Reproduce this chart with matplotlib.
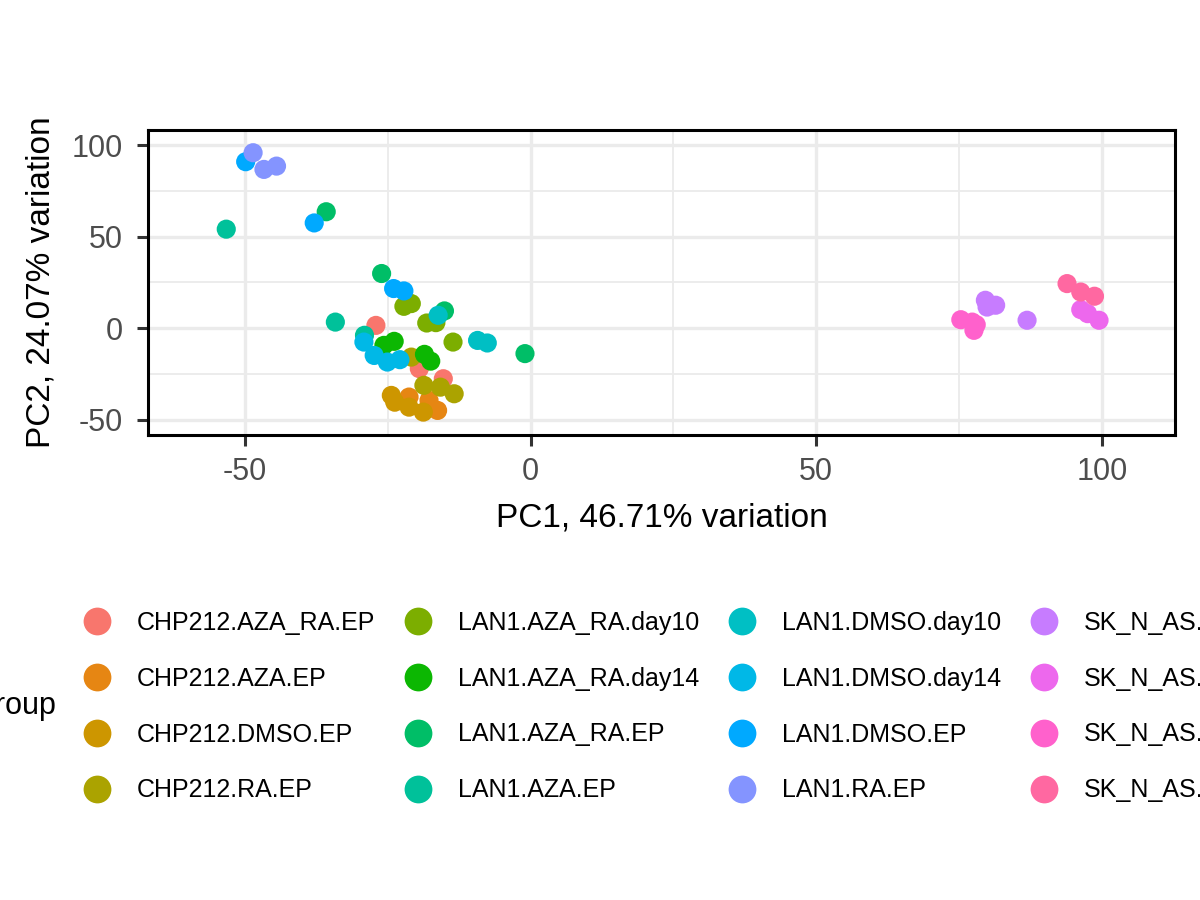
import matplotlib.pyplot as plt
from matplotlib.lines import Line2D
from matplotlib.ticker import MultipleLocator

plt.rcParams["font.family"] = ["Liberation Sans", "DejaVu Sans"]
plt.rcParams["axes.unicode_minus"] = False

# groups and ggplot-style hue colours
groups = [
    "CHP212.AZA_RA.EP", "CHP212.AZA.EP", "CHP212.DMSO.EP", "CHP212.RA.EP",
    "LAN1.AZA_RA.day10", "LAN1.AZA_RA.day14", "LAN1.AZA_RA.EP", "LAN1.AZA.EP",
    "LAN1.DMSO.day10", "LAN1.DMSO.day14", "LAN1.DMSO.EP", "LAN1.RA.EP",
    "SK_N_AS.AZA_RA.EP", "SK_N_AS.AZA.EP", "SK_N_AS.DMSO.EP", "SK_N_AS.RA.EP",
]
colors = [
    "#F8766D", "#E68613", "#CD9600", "#ABA300",
    "#7CAE00", "#0CB702", "#00BE67", "#00C19A",
    "#00BFC4", "#00B8E7", "#00A9FF", "#8494FF",
    "#C77CFF", "#ED68ED", "#FF61CC", "#FF68A1",
]

# PC1 / PC2 scores per group
pc1 = {
    "CHP212.AZA_RA.EP": [-27.1, -19.5, -15.3],
    "CHP212.AZA.EP": [-21.3, -17.8, -16.3],
    "CHP212.DMSO.EP": [-24.4, -23.8, -21.3, -18.8],
    "CHP212.RA.EP": [-20.9, -18.7, -15.8, -13.4],
    "LAN1.AZA_RA.day10": [-22.2, -20.9, -18.2, -16.6, -13.6],
    "LAN1.AZA_RA.day14": [-25.7, -23.9, -18.6, -17.5],
    "LAN1.AZA_RA.EP": [-35.8, -26.1, -15.1, -1.0],
    "LAN1.AZA.EP": [-53.3, -34.2, -29.1],
    "LAN1.DMSO.day10": [-16.2, -9.3, -7.6],
    "LAN1.DMSO.day14": [-29.2, -27.4, -25.1, -22.9],
    "LAN1.DMSO.EP": [-49.9, -37.9, -24.0, -22.2],
    "LAN1.RA.EP": [-48.6, -46.7, -44.5],
    "SK_N_AS.AZA_RA.EP": [79.6, 81.4, 79.9, 86.9],
    "SK_N_AS.AZA.EP": [96.3, 97.5, 99.5],
    "SK_N_AS.DMSO.EP": [75.3, 77.3, 78.0, 77.6],
    "SK_N_AS.RA.EP": [93.9, 96.3, 98.7],
}
pc2 = {
    "CHP212.AZA_RA.EP": [1.6, -22.0, -27.5],
    "CHP212.AZA.EP": [-37.5, -39.3, -44.8],
    "CHP212.DMSO.EP": [-36.6, -40.3, -43.0, -45.7],
    "CHP212.RA.EP": [-15.7, -31.1, -32.1, -35.7],
    "LAN1.AZA_RA.day10": [12.0, 13.5, 2.9, 3.1, -7.5],
    "LAN1.AZA_RA.day14": [-9.3, -7.1, -14.2, -17.9],
    "LAN1.AZA_RA.EP": [63.6, 29.9, 9.5, -13.8],
    "LAN1.AZA.EP": [54.1, 3.4, -3.8],
    "LAN1.DMSO.day10": [7.1, -6.6, -8.0],
    "LAN1.DMSO.day14": [-7.5, -14.8, -18.4, -17.1],
    "LAN1.DMSO.EP": [90.9, 57.5, 21.7, 20.4],
    "LAN1.RA.EP": [95.8, 86.7, 88.5],
    "SK_N_AS.AZA_RA.EP": [15.3, 12.6, 11.6, 4.4],
    "SK_N_AS.AZA.EP": [10.2, 8.0, 4.4],
    "SK_N_AS.DMSO.EP": [4.7, 3.4, 2.0, -1.1],
    "SK_N_AS.RA.EP": [24.4, 19.8, 17.5],
}

fig = plt.figure(figsize=(12, 9), dpi=100)
ax = fig.add_axes([148 / 1200, 465 / 900, 1027 / 1200, 305 / 900])

for g, c in zip(groups, colors):
    ax.scatter(pc1[g], pc2[g], s=190, color=c, edgecolors="none", zorder=3)

ax.set_xlim(-67, 112.8)
ax.set_ylim(-58.2, 108.2)
ax.xaxis.set_major_locator(MultipleLocator(50))
ax.yaxis.set_major_locator(MultipleLocator(50))
ax.xaxis.set_minor_locator(MultipleLocator(25))
ax.yaxis.set_minor_locator(MultipleLocator(25))

ax.grid(which="major", color="#EBEBEB", linewidth=2.4, zorder=0)
ax.grid(which="minor", color="#EBEBEB", linewidth=1.3, zorder=0)
ax.set_axisbelow(True)
for s in ax.spines.values():
    s.set_linewidth(2.2)
    s.set_color("black")

ax.tick_params(which="major", length=8, width=2.2, color="#333333",
               labelsize=22, labelcolor="#4D4D4D")
ax.tick_params(axis="x", which="major", pad=8)
ax.tick_params(axis="y", which="major", pad=10)
ax.tick_params(which="minor", length=0)

ax.set_xlabel("PC1, 46.71% variation", fontsize=24, labelpad=11)
ax.set_ylabel("PC2, 24.07% variation", fontsize=24, labelpad=11)

# legend below the plot, 4 columns
handles = [Line2D([], [], marker="o", linestyle="", markersize=20,
                  markerfacecolor=c, markeredgecolor="none") for c in colors]
fig.legend(handles, groups, loc="upper left", bbox_to_anchor=(84 / 1200, 1 - 611 / 900),
           ncol=4, frameon=False, fontsize=18, handlelength=1.0,
           handletextpad=1.1, columnspacing=1.22, labelspacing=1.27,
           borderpad=0, borderaxespad=0)
fig.text(57 / 1200, 1 - 706 / 900, "group", fontsize=22, ha="right", va="center")

fig.savefig("out.png", dpi=100)
